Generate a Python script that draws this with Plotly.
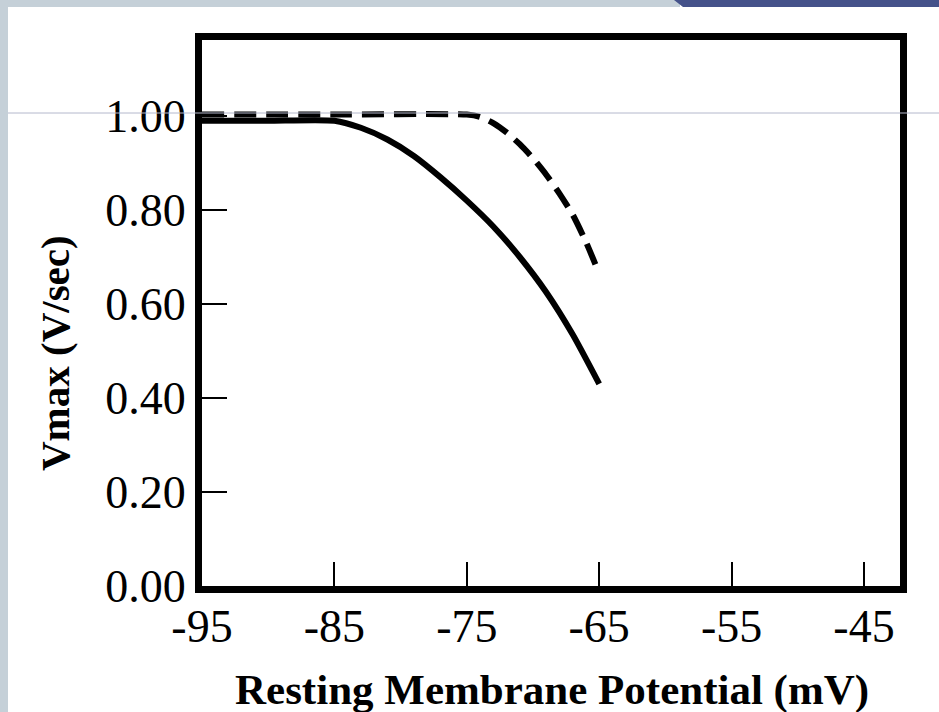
import plotly.graph_objects as go

# ---- data ----
solid_x = [-95, -90, -85, -83, -81, -79, -77, -75, -73, -71, -69, -67, -65]
solid_y = [0.99, 0.99, 0.99, 0.975, 0.95, 0.915, 0.87, 0.82, 0.765, 0.70, 0.625, 0.535, 0.43]

dashed_x = [-95, -85, -75, -74, -73, -72, -71, -70, -69, -68, -67, -66, -65]
dashed_y = [1.003, 1.003, 1.003, 0.998, 0.985, 0.965, 0.94, 0.91, 0.875, 0.835, 0.79, 0.732, 0.665]

x_ticks = [-95, -85, -75, -65, -55, -45]
y_ticks = [0.0, 0.2, 0.4, 0.6, 0.8, 1.0]
y_tick_labels = ["0.00", "0.20", "0.40", "0.60", "0.80", "1.00"]

x_title = "Resting Membrane Potential (mV)"
y_title = "Vmax (V/sec)"

# ---- layout geometry ----
W, H = 939, 712
L, R, T, B = 202, 39, 40, 126
PW, PH = W - L - R, H - T - B

def px(x):
    return (x - L) / PW

def py(y):
    return (H - B - y) / PH

FONT = "Liberation Serif, Times New Roman, serif"

fig = go.Figure()
fig.add_trace(go.Scatter(x=solid_x, y=solid_y, mode="lines",
                         line=dict(color="black", width=6, shape="spline", smoothing=0.6),
                         showlegend=False, hoverinfo="skip"))
fig.add_trace(go.Scatter(x=dashed_x, y=dashed_y, mode="lines",
                         line=dict(color="black", width=6, dash="22px,10px", shape="spline", smoothing=0.6),
                         showlegend=False, hoverinfo="skip"))

shapes = [
    # left gray strip
    dict(type="rect", xref="paper", yref="paper", x0=px(0), x1=px(8), y0=py(H), y1=py(0),
         fillcolor="#C5D0D8", line=dict(width=0), layer="below"),
    # top gray strip
    dict(type="rect", xref="paper", yref="paper", x0=px(0), x1=px(680), y0=py(7), y1=py(0),
         fillcolor="#C5D0D8", line=dict(width=0), layer="below"),
    # top blue bar with slanted edge
    dict(type="path", xref="paper", yref="paper",
         path=f"M {px(674)} {py(0)} L {px(W)} {py(0)} L {px(W)} {py(7)} L {px(683)} {py(7)} Z",
         fillcolor="#45528A", line=dict(width=0), layer="below"),
    # thin horizontal line
    dict(type="line", xref="paper", yref="paper", x0=px(8), x1=px(W), y0=py(113), y1=py(113),
         line=dict(color="#B4B8CC", width=1), layer="above"),
]

fig.update_layout(
    width=W, height=H,
    margin=dict(l=L, r=R, t=T, b=B, autoexpand=False),
    paper_bgcolor="white", plot_bgcolor="white",
    shapes=shapes,
    font=dict(family=FONT, color="black"),
    annotations=[
        dict(text=f"<b>{x_title}</b>", xref="paper", yref="paper", x=px(552), y=py(690),
             xanchor="center", yanchor="middle", showarrow=False,
             font=dict(family=FONT, size=43, color="black")),
        dict(text=f"<b>{y_title}</b>", xref="paper", yref="paper", x=px(55), y=py(353),
             xanchor="center", yanchor="middle", showarrow=False, textangle=-90,
             font=dict(family=FONT, size=41, color="black")),
    ],
)

fig.update_xaxes(range=[-95, -95 + PW / 13.24], tickvals=x_ticks,
                 ticktext=[str(v) for v in x_ticks],
                 ticks="inside", ticklen=24, tickwidth=2, tickcolor="black",
                 showline=True, linewidth=7, linecolor="black", mirror=True,
                 showgrid=False, zeroline=False, ticklabelstandoff=-6,
                 tickfont=dict(family=FONT, size=46, color="black"))
fig.update_yaxes(range=[0, PH / 470.0], tickvals=y_ticks, ticktext=y_tick_labels,
                 ticks="inside", ticklen=25, tickwidth=2, tickcolor="black",
                 showline=True, linewidth=7, linecolor="black", mirror=True,
                 showgrid=False, zeroline=False,
                 tickfont=dict(family=FONT, size=46, color="black"))

fig.write_html("out.html", config={"displayModeBar": False},
               post_script="document.body.style.margin='0';document.body.style.overflow='hidden';")
